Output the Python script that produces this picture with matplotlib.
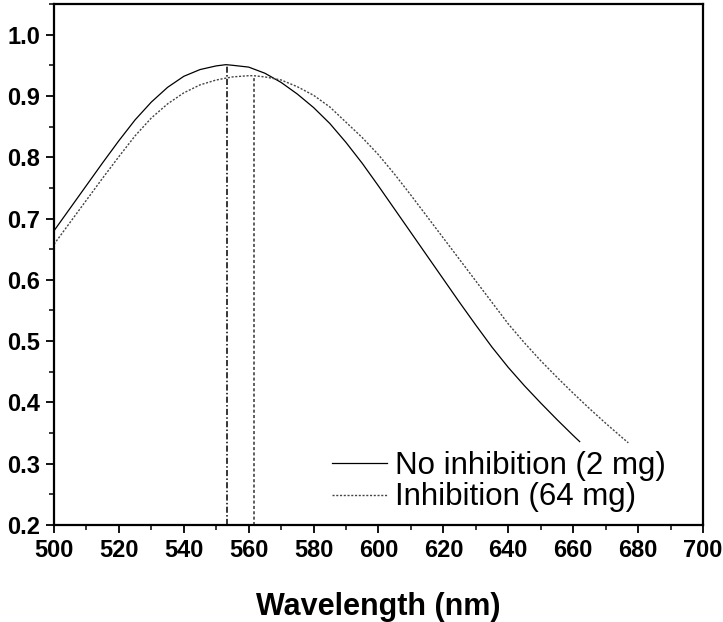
import matplotlib.pyplot as plt
from matplotlib.ticker import MultipleLocator

plt.rcParams["font.family"] = ["Liberation Sans", "DejaVu Sans"]

# absorbance spectra, wavelength in nm
wl_ctrl = [500, 505, 510, 515, 520, 525, 530, 535, 540, 545, 550, 553, 555,
           560, 565, 570, 575, 580, 585, 590, 595, 600, 605, 610, 615, 620,
           625, 630, 635, 640, 645, 650, 655, 660, 662]
abs_ctrl = [0.680, 0.717, 0.754, 0.791, 0.827, 0.861, 0.890, 0.914, 0.932,
            0.943, 0.949, 0.951, 0.950, 0.947, 0.937, 0.922, 0.903, 0.881,
            0.855, 0.824, 0.790, 0.753, 0.715, 0.677, 0.639, 0.601, 0.563,
            0.526, 0.490, 0.457, 0.427, 0.399, 0.372, 0.346, 0.336]

wl_inh = [500, 505, 510, 515, 520, 525, 530, 535, 540, 545, 550, 555, 560,
          561.5, 565, 570, 575, 580, 585, 590, 595, 600, 605, 610, 615, 620,
          625, 630, 635, 640, 645, 650, 655, 660, 665, 670, 675, 677]
abs_inh = [0.658, 0.694, 0.730, 0.766, 0.801, 0.835, 0.864, 0.887, 0.905,
           0.918, 0.926, 0.931, 0.933, 0.933, 0.931, 0.926, 0.915, 0.901,
           0.882, 0.857, 0.832, 0.804, 0.772, 0.738, 0.703, 0.668, 0.633,
           0.598, 0.563, 0.528, 0.497, 0.468, 0.441, 0.415, 0.390, 0.366,
           0.343, 0.334]

peak_ctrl = (553.3, 0.951)
peak_inh = (561.5, 0.933)

fig = plt.figure(figsize=(7.23, 6.22), dpi=100)
ax = fig.add_axes([0.0747, 0.156, 0.8976, 0.8376])

ax.plot(wl_ctrl, abs_ctrl, color="black", lw=0.9,
        label="No inhibition (2 mg)")
ax.plot(wl_inh, abs_inh, color="#444444", lw=1.0, linestyle=(0, (1.5, 1.2)),
        label="Inhibition (64 mg)")

# peak markers
ax.plot([peak_ctrl[0]] * 2, [0.2, peak_ctrl[1]], color="black", lw=1.1,
        linestyle=(0, (4, 1.5, 1, 1.5)))
ax.plot([peak_inh[0]] * 2, [0.2, peak_inh[1]], color="#333333", lw=1.1,
        linestyle=(0, (2, 1.5)))

ax.set_xlim(500, 700)
ax.set_ylim(0.2, 1.05)
ax.xaxis.set_major_locator(MultipleLocator(20))
ax.xaxis.set_minor_locator(MultipleLocator(10))
ax.yaxis.set_major_locator(MultipleLocator(0.1))
ax.yaxis.set_minor_locator(MultipleLocator(0.05))

ax.tick_params(which="major", direction="out", length=6, width=1.3,
               labelsize=17, pad=4)
ax.tick_params(which="minor", direction="out", length=3.5, width=1.1)
for lab in ax.get_xticklabels() + ax.get_yticklabels():
    lab.set_fontweight("bold")
for sp in ax.spines.values():
    sp.set_linewidth(1.6)

ax.set_xlabel("Wavelength (nm)", fontsize=22, fontweight="bold", labelpad=22)

ax.legend(loc="lower right", frameon=False, fontsize=22.5, handlelength=1.75,
          handletextpad=0.25, labelspacing=0.05, borderaxespad=0.0,
          bbox_to_anchor=(0.962, 0.0))

fig.savefig("out.png", dpi=100)
